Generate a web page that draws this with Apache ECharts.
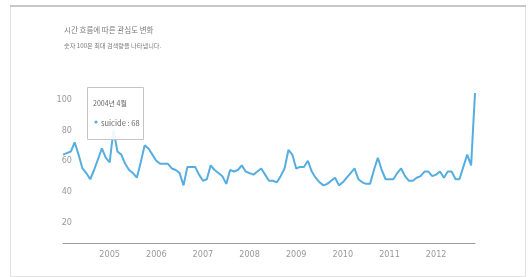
<!DOCTYPE html>
<html><head><meta charset="utf-8">
<script src="https://cdn.jsdelivr.net/npm/echarts@6/dist/echarts.min.js"></script>
<style>html,body{margin:0;padding:0;background:#fff}#c{width:528px;height:277px}</style>
</head><body><div id="c"></div>
<script>
// Monthly search interest, Jan 2004 – Nov 2012
const startYear = 2004;
const values = [
  60, 61, 62, 68, 60, 51, 48, 44, 50, 57, 64, 58,
  55, 76, 62, 60, 54, 50, 48, 45, 55, 66, 64, 60,
  56, 54, 54, 54, 51, 50, 48, 40, 52, 52, 52, 47,
  43, 44, 53, 50, 48, 46, 41, 50, 49, 50, 53, 49,
  48, 47, 49, 51, 47, 43, 43, 42, 46, 51, 63, 60,
  51, 52, 52, 56, 49, 45, 42, 40, 41, 43, 45, 40,
  42, 45, 48, 51, 44, 42, 41, 41, 50, 58, 50, 44,
  44, 44, 48, 51, 46, 43, 43, 45, 46, 49, 49, 46,
  47, 49, 45, 49, 49, 44, 44, 52, 60, 53, 100
];
const seriesName = 'suicide';
const yTicks = [20, 40, 60, 80, 100];
const titleText = '시간 흐름에 따른 관심도 변화';
const subtitleText = '숫자 100은 최대 검색량을 나타냅니다.';
const highlightIndex = 3;

const categories = values.map((v, i) => {
  const y = startYear + Math.floor(i / 12);
  const m = (i % 12) + 1;
  return y + '-' + (m < 10 ? '0' + m : m);
});
const tipTitle = (c => c.slice(0, 4) + '년 ' + parseInt(c.slice(5), 10) + '월')(categories[highlightIndex]);
const tipLine = seriesName + ' : ' + values[highlightIndex];

const lineColor = '#55ade0';
const chart = echarts.init(document.getElementById('c'), null, {renderer: 'canvas'});
chart.setOption({
  animation: false,
  backgroundColor: '#fff',
  grid: {left: 63, right: 53, top: 93, bottom: 30},
  xAxis: {
    type: 'category', data: categories, boundaryGap: false, offset: -4,
    axisLine: {lineStyle: {color: '#9a9a9a', width: 1}},
    axisTick: {show: false},
    axisLabel: {
      interval: (i, v) => i > 0 && v.slice(5) === '01',
      formatter: v => v.slice(0, 4),
      margin: 7, color: '#999', fontSize: 9,
      fontFamily: '"Liberation Sans Narrow", "DejaVu Sans Condensed", sans-serif'
    },
    splitLine: {show: false}
  },
  yAxis: {
    type: 'value', min: 0, max: 100, interval: 20,
    axisLine: {show: false}, axisTick: {show: false}, splitLine: {show: false},
    axisLabel: {
      showMinLabel: false, margin: -9, align: 'right', verticalAlign: 'top',
      padding: [2, 0, 0, 0],
      color: '#999', fontSize: 9,
      fontFamily: '"Liberation Sans Narrow", "DejaVu Sans Condensed", sans-serif',
      formatter: v => yTicks.indexOf(v) >= 0 ? String(v) : ''
    }
  },
  series: [{
    type: 'line', name: seriesName,
    data: values.map((v, i) => i === highlightIndex
      ? {value: v, symbol: 'circle', symbolSize: 5, itemStyle: {color: lineColor}}
      : {value: v, symbol: 'none'}),
    showSymbol: true,
    lineStyle: {color: lineColor, width: 2},
    itemStyle: {color: lineColor},
    z: 2
  }],
  graphic: [
    {type: 'rect', shape: {x: 10.5, y: 6.5, width: 515, height: 270}, style: {fill: 'none', stroke: '#e2e2e2', lineWidth: 1}, z: 0},
    {type: 'line', shape: {x1: 10, y1: 6, x2: 526, y2: 6}, style: {stroke: '#c8c8c8', lineWidth: 2}, z: 1},
    {type: 'text', left: 64, top: 26, style: {text: titleText, fontSize: 7.5, fill: '#7a7a7a', fontFamily: '"Noto Sans CJK KR", sans-serif'}},
    {type: 'text', left: 64, top: 43, style: {text: subtitleText, fontSize: 6.2, fill: '#7a7a7a', fontFamily: '"Noto Sans CJK KR", sans-serif'}},
    {type: 'rect', z: 50, shape: {x: 87.5, y: 87.5, width: 56, height: 52}, style: {fill: 'rgba(255,255,255,0.9)', stroke: '#c4c4c4', lineWidth: 1}},
    {type: 'text', z: 51, x: 93, y: 100, style: {text: tipTitle, fontSize: 7, fill: '#666', fontFamily: '"Noto Sans CJK KR", sans-serif'}},
    {type: 'circle', z: 51, shape: {cx: 96, cy: 122, r: 1.6}, style: {fill: lineColor}},
    {type: 'text', z: 51, x: 101, y: 119.5, style: {text: tipLine, fontSize: 7.5, fill: '#666', fontFamily: '"Noto Sans CJK KR", sans-serif'}}
  ]
});
</script>
</body></html>
